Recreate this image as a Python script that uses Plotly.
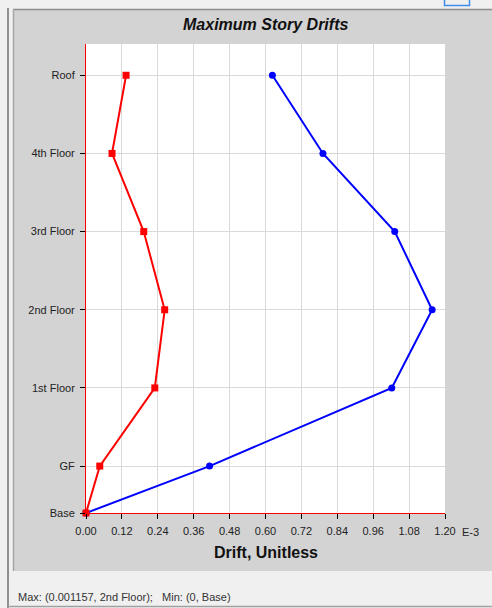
import plotly.graph_objects as go

# Story levels (bottom to top) and their elevations in metres
stories = ["Base", "GF", "1st Floor", "2nd Floor", "3rd Floor", "4th Floor", "Roof"]
elevations = [0.0, 1.8, 4.8, 7.8, 10.8, 13.8, 16.8]

# Maximum story drifts, in units of 1E-3
drift_x_e3 = [0.0, 0.413, 1.022, 1.157, 1.032, 0.792, 0.623]
drift_y_e3 = [0.0, 0.046, 0.230, 0.263, 0.193, 0.087, 0.134]

x_tick_vals = [0.00, 0.12, 0.24, 0.36, 0.48, 0.60, 0.72, 0.84, 0.96, 1.08, 1.20]
x_tick_text = ["0.00", "0.12", "0.24", "0.36", "0.48", "0.60", "0.72", "0.84", "0.96", "1.08", "1.20"]

W, H = 492, 608
L, R, T, B = 86, 445, 44, 513
FONT = "Liberation Sans, Arial, sans-serif"


def px(x):
    return (x - L) / (R - L)


def py(y):
    return (B - y) / (B - T)


fig = go.Figure()

fig.add_trace(go.Scatter(
    x=drift_x_e3, y=elevations, mode="lines+markers",
    line=dict(color="#0000FF", width=2),
    marker=dict(symbol="circle", size=7, color="#0000FF"),
    cliponaxis=False, showlegend=False,
))
fig.add_trace(go.Scatter(
    x=drift_y_e3, y=elevations, mode="lines+markers",
    line=dict(color="#FF0000", width=2),
    marker=dict(symbol="square", size=7, color="#FF0000"),
    cliponaxis=False, showlegend=False,
))

# Window chrome: grey chart panel, borders and the white plotting area
shapes = [
    dict(type="rect", xref="paper", yref="paper", x0=px(13), x1=px(W + 2), y0=py(9), y1=py(571),
         fillcolor="#D3D3D3", line=dict(width=0), layer="below"),
    dict(type="rect", xref="paper", yref="paper", x0=px(L), x1=px(R), y0=py(T), y1=py(B),
         fillcolor="#FFFFFF", line=dict(width=0), layer="below"),
    dict(type="line", xref="paper", yref="paper", x0=px(13), x1=px(W + 2), y0=py(9.5), y1=py(9.5),
         line=dict(color="#8C8C8C", width=1.5)),
    dict(type="line", xref="paper", yref="paper", x0=px(13.5), x1=px(13.5), y0=py(9), y1=py(571),
         line=dict(color="#A6A6A6", width=1.5)),
    dict(type="line", xref="paper", yref="paper", x0=px(8), x1=px(8), y0=py(8), y1=py(H + 2),
         line=dict(color="#707070", width=1.5)),
    dict(type="line", xref="paper", yref="paper", x0=px(8), x1=px(W + 2), y0=py(606.5), y1=py(606.5),
         line=dict(color="#A0A0A0", width=1.5)),
    dict(type="rect", xref="paper", yref="paper", x0=px(444.5), x1=px(469.5), y0=py(-3), y1=py(5.5),
         fillcolor="rgba(0,0,0,0)", line=dict(color="#3D8EE8", width=1.5)),
]

status = "Max: ({:.6f}, {});&nbsp;&nbsp;&nbsp;Min: ({:g}, {})".format(
    max(drift_x_e3) / 1000, stories[drift_x_e3.index(max(drift_x_e3))],
    min(drift_x_e3), stories[drift_x_e3.index(min(drift_x_e3))],
)

annotations = [
    dict(text="<b><i>Maximum Story Drifts</i></b>", xref="paper", yref="paper",
         x=px(265.5), y=py(25), xanchor="center", yanchor="middle", showarrow=False,
         font=dict(family=FONT, size=16, color="#111111")),
    dict(text="<b>Drift, Unitless</b>", xref="paper", yref="paper",
         x=px(265.5), y=py(552), xanchor="center", yanchor="middle", showarrow=False,
         font=dict(family=FONT, size=16, color="#111111")),
    dict(text="E-3", xref="paper", yref="paper",
         x=px(460), y=py(531.5), xanchor="left", yanchor="middle", showarrow=False,
         font=dict(family=FONT, size=11, color="#222222")),
    dict(text=status, xref="paper", yref="paper",
         x=px(16), y=py(597), xanchor="left", yanchor="middle", showarrow=False,
         font=dict(family=FONT, size=11, color="#333333")),
]

fig.update_layout(
    width=W, height=H,
    margin=dict(l=L, r=W - R, t=T, b=H - B, pad=0),
    paper_bgcolor="#F0F0F0",
    plot_bgcolor="rgba(0,0,0,0)",
    shapes=shapes,
    annotations=annotations,
    font=dict(family=FONT, size=11, color="#222222"),
    xaxis=dict(
        range=[0, 1.2], tickvals=x_tick_vals, ticktext=x_tick_text,
        showgrid=True, gridcolor="#DADADA", gridwidth=1,
        showline=True, linecolor="#FF0000", linewidth=1,
        ticks="outside", ticklen=5, tickcolor="#000000", tickwidth=1,
        ticklabelstandoff=3,
        zeroline=False, tickfont=dict(size=11, color="#222222"),
    ),
    yaxis=dict(
        range=[0, 18], tickvals=elevations, ticktext=stories,
        showgrid=True, gridcolor="#DADADA", gridwidth=1,
        showline=True, linecolor="#FF0000", linewidth=1,
        ticks="outside", ticklen=5, tickcolor="#000000", tickwidth=1,
        ticklabelstandoff=3,
        zeroline=False, tickfont=dict(size=11, color="#222222"),
    ),
)

fig.write_html("out.html")
